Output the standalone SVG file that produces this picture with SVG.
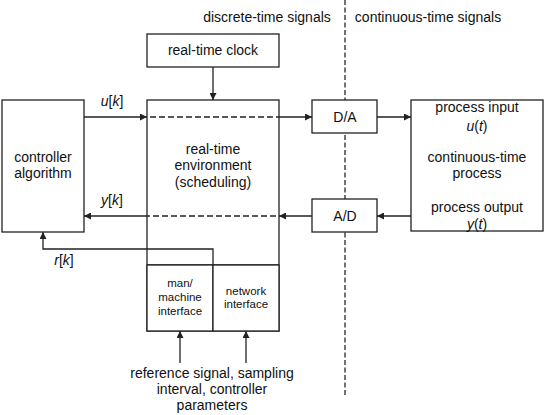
<svg xmlns="http://www.w3.org/2000/svg" width="545" height="415" viewBox="0 0 545 415">
<style>
.box{fill:#fff;stroke:#222;stroke-width:1.3}
.ln{fill:none;stroke:#222;stroke-width:1.3}
.dash{fill:none;stroke:#222;stroke-width:1.3;stroke-dasharray:6 3}
.sep{fill:none;stroke:#444;stroke-width:1.5;stroke-dasharray:5 2.5}
text{font-family:"Liberation Sans",Arial,sans-serif;font-size:14px;fill:#111;text-anchor:middle}
.sm{font-size:11.5px}
.lbl{font-style:italic}
</style>
<defs>
<marker id="ah" viewBox="0 0 10 10" refX="10" refY="5" markerWidth="7" markerHeight="7" markerUnits="userSpaceOnUse" orient="auto">
<path d="M0,0 L10,5 L0,10 z" fill="#222"/>
</marker>
</defs>
<line class="sep" x1="345" y1="0" x2="345" y2="396"/>
<text x="267" y="22">discrete-time signals</text>
<text x="428" y="22">continuous-time signals</text>
<g id="clock"><rect class="box" x="147" y="34" width="132" height="33"/><text x="213" y="55">real-time clock</text></g>
<g id="controller"><rect class="box" x="2" y="100" width="82" height="132"/><text x="43" y="162">controller</text><text x="43" y="178">algorithm</text></g>
<g id="environment"><rect class="box" x="147" y="100" width="132" height="231"/><line class="ln" x1="147" y1="265" x2="279" y2="265"/><text x="213" y="154">real-time</text><text x="213" y="170">environment</text><text x="213" y="187">(scheduling)</text></g>
<g id="mmi"><rect class="box" x="147" y="265" width="66" height="66"/><text class="sm" x="180" y="287">man/</text><text class="sm" x="180" y="301">machine</text><text class="sm" x="180" y="315">interface</text></g>
<g id="net"><rect class="box" x="213" y="265" width="66" height="66"/><text class="sm" x="246" y="295">network</text><text class="sm" x="246" y="308">interface</text></g>
<g id="da"><rect class="box" x="312" y="100" width="65" height="33"/><text x="345" y="122">D/A</text></g>
<g id="ad"><rect class="box" x="312" y="199" width="65" height="33"/><text x="345" y="221">A/D</text></g>
<g id="process"><rect class="box" x="411" y="100" width="132" height="131"/><text x="477" y="112">process input</text><text x="477" y="131"><tspan class="lbl">u</tspan>(<tspan class="lbl">t</tspan>)</text><text x="477" y="162">continuous-time</text><text x="477" y="178">process</text><text x="477" y="212">process output</text><text x="477" y="229"><tspan class="lbl">y</tspan>(<tspan class="lbl">t</tspan>)</text></g>
<g id="connectors">
<line class="ln" x1="213" y1="67" x2="213" y2="100" marker-end="url(#ah)"/>
<line class="ln" x1="84" y1="117" x2="147" y2="117" marker-end="url(#ah)"/>
<line class="dash" x1="150" y1="117" x2="279" y2="117"/>
<line class="ln" x1="279" y1="117" x2="312" y2="117" marker-end="url(#ah)"/>
<line class="ln" x1="377" y1="117" x2="411" y2="117" marker-end="url(#ah)"/>
<line class="ln" x1="411" y1="216" x2="377" y2="216" marker-end="url(#ah)"/>
<line class="ln" x1="312" y1="216" x2="279" y2="216" marker-end="url(#ah)"/>
<line class="dash" x1="276" y1="216" x2="147" y2="216"/>
<line class="ln" x1="147" y1="216" x2="84" y2="216" marker-end="url(#ah)"/>
<polyline class="ln" points="213,265 213,249 43,249 43,232" marker-end="url(#ah)"/>
<line class="ln" x1="180" y1="363" x2="180" y2="331" marker-end="url(#ah)"/>
<line class="ln" x1="246" y1="363" x2="246" y2="331" marker-end="url(#ah)"/>
<text x="112" y="106"><tspan class="lbl">u</tspan>[<tspan class="lbl">k</tspan>]</text>
<text x="112" y="205"><tspan class="lbl">y</tspan>[<tspan class="lbl">k</tspan>]</text>
<text x="64" y="265"><tspan class="lbl">r</tspan>[<tspan class="lbl">k</tspan>]</text>
</g>
<text x="212" y="378">reference signal, sampling</text>
<text x="212" y="394">interval, controller</text>
<text x="212" y="410">parameters</text>
</svg>
